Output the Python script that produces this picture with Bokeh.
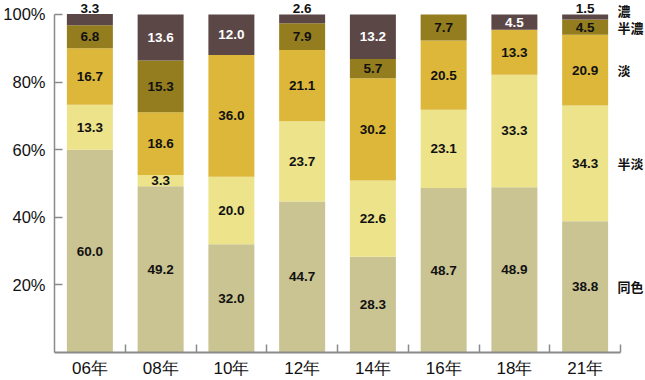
from bokeh.plotting import figure
from bokeh.models import FixedTicker, ColumnDataSource, PrintfTickFormatter, Range1d
from bokeh.embed import file_html
from bokeh.resources import INLINE
from bokeh.core.properties import value

years = ["06年", "08年", "10年", "12年", "14年", "16年", "18年", "21年"]
doshoku = [60.0, 49.2, 32.0, 44.7, 28.3, 48.7, 48.9, 38.8]   # 同色
hantan = [13.3, 3.3, 20.0, 23.7, 22.6, 23.1, 33.3, 34.3]     # 半淡
tan = [16.7, 18.6, 36.0, 21.1, 30.2, 20.5, 13.3, 20.9]       # 淡
hanno = [6.8, 15.3, 0.0, 7.9, 5.7, 7.7, 0.0, 4.5]            # 半濃
no = [3.3, 13.6, 12.0, 2.6, 13.2, 0.0, 4.5, 1.5]             # 濃
series_names = ["同色", "半淡", "淡", "半濃", "濃"]
y_ticks = [20, 40, 60, 80, 100]

colors = ["#c9c492", "#ece38b", "#dcb73a", "#947d1f", "#5c4747"]
series = [doshoku, hantan, tan, hanno, no]
keys = ["s0", "s1", "s2", "s3", "s4"]
n = len(years)
xs = [i + 0.5 for i in range(n)]

data = dict(x=xs)
for k, s in zip(keys, series):
    data[k] = s
src = ColumnDataSource(data)

FONT = "Liberation Sans, Arial, Helvetica, sans-serif"
ABOVE = 101.9
ABOVE_RIGHT = 101.1

p = figure(width=645, height=380, x_range=Range1d(0, 8.353), y_range=Range1d(0, 104.13),
           output_backend="svg", toolbar_location=None,
           min_border_left=54, min_border_right=0, min_border_top=0, min_border_bottom=27)
p.outline_line_color = None
p.xgrid.visible = False
p.ygrid.visible = False
p.background_fill_color = "white"

p.vbar_stack(keys, x="x", width=0.65, fill_color=colors, line_color=None, source=src)

# value labels
lx, ly, lt, lc = [], [], [], []
for i in range(n):
    cum = 0.0
    for k, s in enumerate(series):
        v = s[i]
        if v > 0:
            if k == len(series) - 1 and v < 4:
                y = ABOVE
                c = "#111111"
            else:
                y = cum + v / 2
                c = "#ffffff" if k == len(series) - 1 else "#111111"
            lx.append(xs[i]); ly.append(y); lt.append(f"{v:.1f}"); lc.append(c)
        cum += v
lsrc = ColumnDataSource(dict(x=lx, y=ly, t=lt, c=lc))
p.text(x="x", y="y", text="t", text_color="c", source=lsrc, text_align="center",
       text_baseline="middle", text_font=value(FONT), text_font_style="bold",
       text_font_size="13.5px")

# right-side series labels aligned with last bar
rx, ry, rt = [], [], []
cum = 0.0
for k, s in enumerate(series):
    v = s[-1]
    if k == len(series) - 1 and v < 4:
        y = ABOVE_RIGHT
    else:
        y = cum + v / 2
    rx.append(7.958); ry.append(y); rt.append(series_names[k])
    cum += v
rsrc = ColumnDataSource(dict(x=rx, y=ry, t=rt))
p.text(x="x", y="y", text="t", source=rsrc, text_align="left", text_baseline="middle",
       text_font=value("Noto Sans CJK JP"), text_font_style="bold", text_font_size="13px",
       text_color="#111111")

# y axis
ya = p.yaxis[0]
ya.ticker = FixedTicker(ticks=y_ticks)
ya.formatter = PrintfTickFormatter(format="%d%%")
ya.bounds = (0, 100)
ya.major_tick_in = 8
ya.major_tick_out = 0
ya.minor_tick_line_color = None
ya.major_tick_line_color = "#8a8a8a"
ya.major_tick_line_width = 1.5
ya.axis_line_color = "#8a8a8a"
ya.axis_line_width = 1.5
ya.major_label_standoff = 9
ya.major_label_text_font = FONT
ya.major_label_text_font_size = "16.5px"
ya.major_label_text_color = "#111111"

# x axis
xa = p.xaxis[0]
xa.ticker = FixedTicker(ticks=xs, minor_ticks=[i + 1 for i in range(n)])
xa.major_label_overrides = {xv: lab for xv, lab in zip(xs, years)}
xa.bounds = (0, n)
xa.major_tick_line_color = None
xa.major_tick_in = 0
xa.major_tick_out = 0
xa.minor_tick_in = 8
xa.minor_tick_out = 0
xa.minor_tick_line_color = "#8a8a8a"
xa.minor_tick_line_width = 1.5
xa.axis_line_color = "#8a8a8a"
xa.axis_line_width = 2
xa.major_label_standoff = 6
xa.major_label_text_font = FONT
xa.major_label_text_font_size = "17px"
xa.major_label_text_color = "#111111"

open("out.html", "w").write(file_html(p, INLINE))
